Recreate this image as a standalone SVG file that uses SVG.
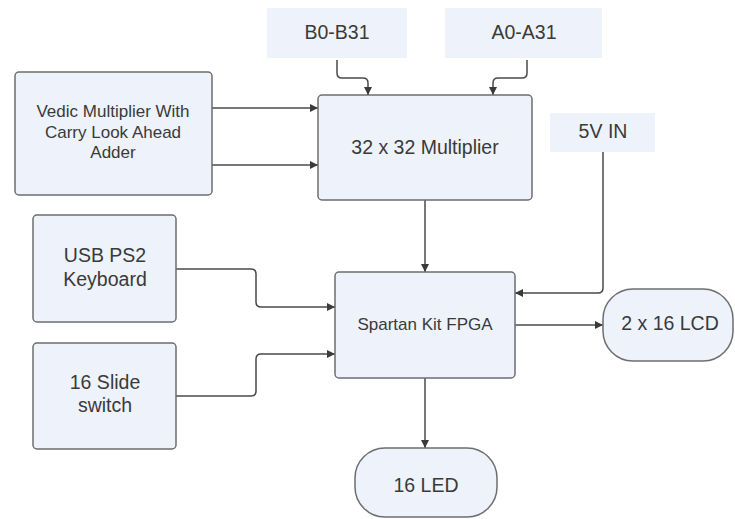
<svg xmlns="http://www.w3.org/2000/svg" width="735" height="519" viewBox="0 0 735 519">
<defs>
<style>
.box{fill:#edf2fb;stroke:#6e6e6e;stroke-width:1.5}
.plain{fill:#eef3fb;stroke:none}
.t{font-family:"Liberation Sans",Arial,sans-serif;fill:#3a3a3a;text-anchor:middle}
.big{font-size:19.5px}
.mid{font-size:17px}
.c{fill:none;stroke:#4a4a4a;stroke-width:1.5;marker-end:url(#ah)}
</style>
<marker id="ah" viewBox="0 0 10 10" refX="10" refY="5" markerWidth="9" markerHeight="8" markerUnits="userSpaceOnUse" orient="auto">
<path d="M0,0 L10,5 L0,10 z" fill="#3a3a3a"/>
</marker>
</defs>
<rect width="735" height="519" fill="#ffffff"/>
<g id="connectors">
<path class="c" d="M337,60 V73 Q337,78 342,78 H363 Q368,78 368,83 V95"/>
<path class="c" d="M527,60 V73 Q527,78 522,78 H498 Q493,78 493,83 V95"/>
<path class="c" d="M212,108 H318"/>
<path class="c" d="M212,165 H318"/>
<path class="c" d="M425,200 V272"/>
<path class="c" d="M603,152 V288 Q603,293 598,293 H515"/>
<path class="c" d="M176,269 H251 Q256,269 256,274 V302 Q256,307 261,307 H335"/>
<path class="c" d="M176,396 H251 Q256,396 256,391 V359 Q256,354 261,354 H335"/>
<path class="c" d="M515,325 H603"/>
<path class="c" d="M425,378 V448"/>
</g>
<g id="b0b31">
<rect class="plain" x="267" y="8" width="140" height="50"/>
<text class="t big" x="337" y="39">B0-B31</text>
</g>
<g id="a0a31">
<rect class="plain" x="445" y="8" width="157" height="50"/>
<text class="t big" x="524" y="39">A0-A31</text>
</g>
<g id="vedic">
<rect class="box" x="15" y="72" width="197" height="123" rx="4"/>
<text class="t mid" x="113" y="117">Vedic Multiplier With</text>
<text class="t mid" x="113" y="138">Carry Look Ahead</text>
<text class="t mid" x="113" y="158">Adder</text>
</g>
<g id="multiplier">
<rect class="box" x="318" y="95" width="214" height="105" rx="4"/>
<text class="t big" x="425" y="154">32 x 32 Multiplier</text>
</g>
<g id="v5in">
<rect class="plain" x="550" y="113" width="105" height="39"/>
<text class="t big" x="603" y="138">5V IN</text>
</g>
<g id="keyboard">
<rect class="box" x="33" y="215" width="143" height="107" rx="4"/>
<text class="t big" x="105" y="262">USB PS2</text>
<text class="t big" x="105" y="286">Keyboard</text>
</g>
<g id="slide">
<rect class="box" x="33" y="343" width="143" height="106" rx="4"/>
<text class="t big" x="105" y="389">16 Slide</text>
<text class="t big" x="105" y="412">switch</text>
</g>
<g id="fpga">
<rect class="box" x="335" y="272" width="180" height="106" rx="4"/>
<text class="t mid" x="425" y="330">Spartan Kit FPGA</text>
</g>
<g id="lcd">
<rect class="box" x="603" y="289" width="130" height="72" rx="30"/>
<text class="t big" x="670" y="330">2 x 16 LCD</text>
</g>
<g id="led">
<rect class="box" x="355" y="448" width="142" height="69" rx="30"/>
<text class="t big" x="426" y="492">16 LED</text>
</g>
</svg>
